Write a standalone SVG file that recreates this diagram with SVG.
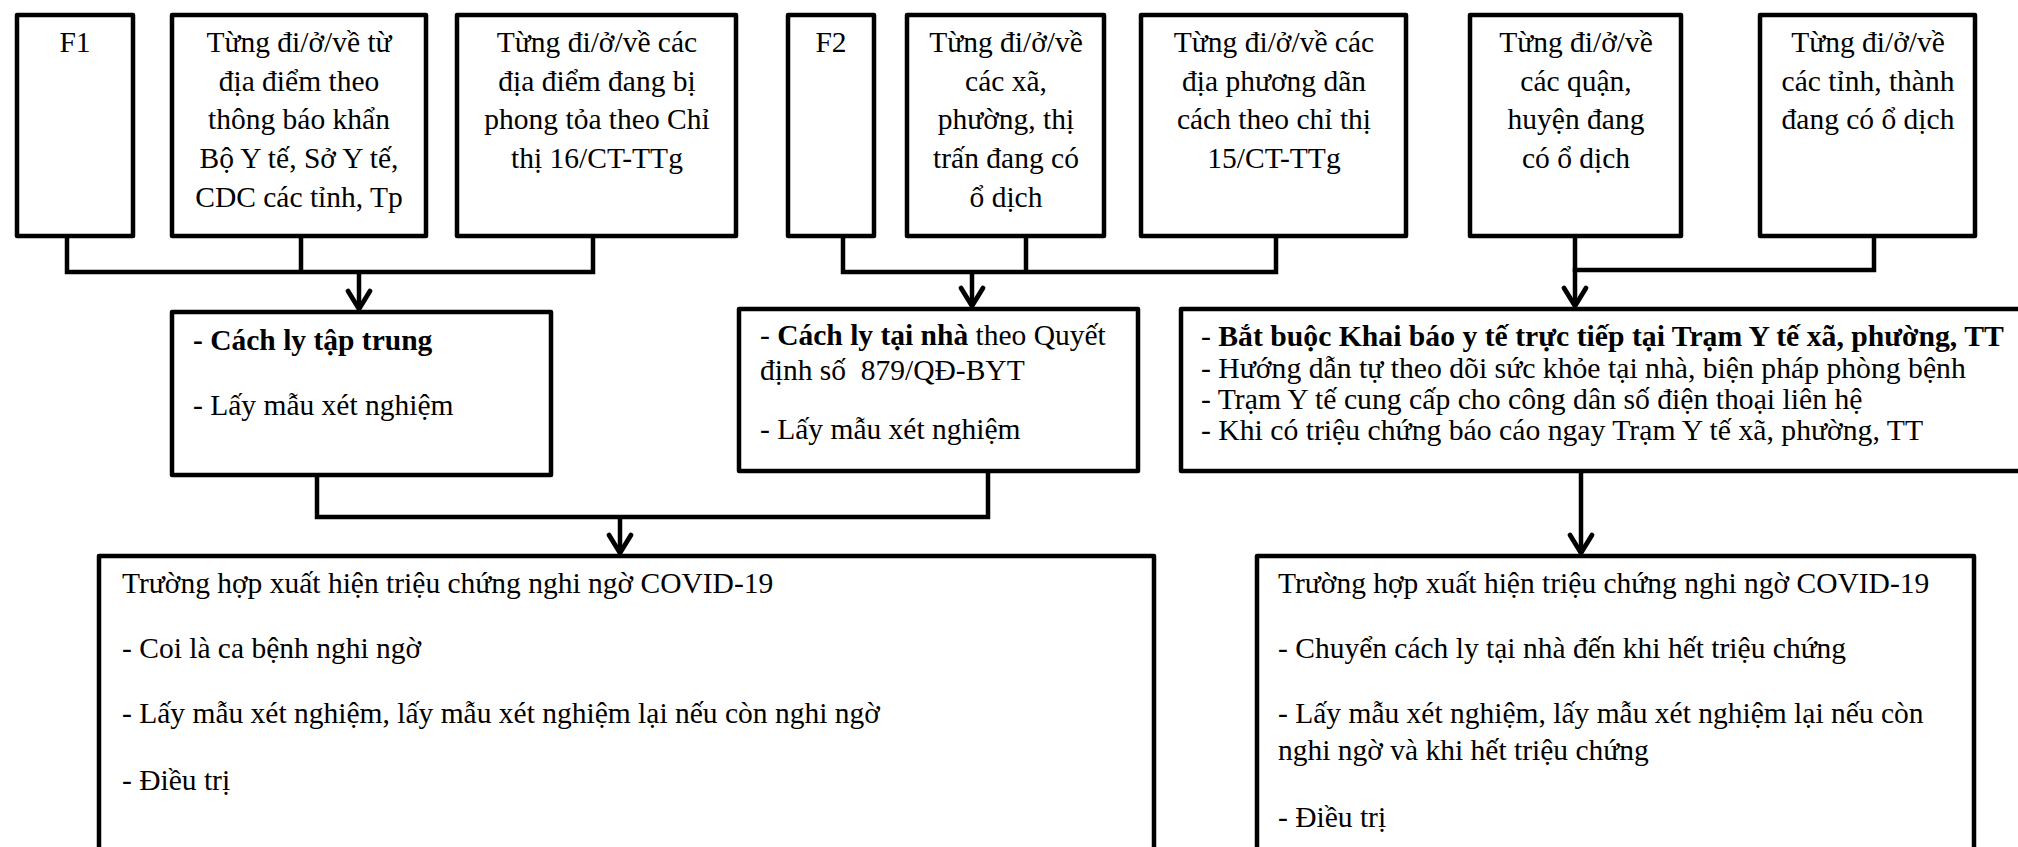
<svg xmlns="http://www.w3.org/2000/svg" width="2018" height="847" viewBox="0 0 2018 847">
<style>
  .box { fill: #ffffff; stroke: #000000; stroke-width: 4.5; stroke-linejoin: round; }
  .t { font-family: "Liberation Serif", "Times New Roman", "DejaVu Serif", serif; font-size: 29.5px; fill: #000000; }
  .s { font-size: 29.7px; }
  .c { text-anchor: middle; }
  .b { font-weight: bold; }
  .pre { white-space: pre; }
  .conn { fill: none; stroke: #000000; stroke-width: 4.5; stroke-linejoin: miter; stroke-linecap: square; }
  .arr { fill: none; stroke: #000000; stroke-width: 4.5; marker-end: url(#ah); }
</style>
<defs>
  <marker id="ah" markerUnits="userSpaceOnUse" viewBox="-24 -16 28 32" refX="0" refY="0" markerWidth="28" markerHeight="32" orient="auto" overflow="visible">
    <path d="M-18,-11 L0,0 L-18,11" fill="none" stroke="#000000" stroke-width="4.8" stroke-linecap="round" stroke-linejoin="miter"/>
  </marker>
</defs>
<rect width="2018" height="847" fill="#ffffff"/>

<g id="connectors">
  <path class="conn" d="M67 236 V272 M301 236 V272 M593 236 V272 M67 272 H593"/>
  <path class="arr" d="M359 272 V309"/>
  <path class="conn" d="M843 236 V272 M1026 236 V272 M1276 236 V272 M843 272 H1276"/>
  <path class="arr" d="M972 272 V306"/>
  <path class="conn" d="M1874 236 V270 H1575"/>
  <path class="arr" d="M1575 236 V306"/>
  <path class="conn" d="M317 475 V517 H988 V471"/>
  <path class="arr" d="M620 517 V553"/>
  <path class="arr" d="M1581 471 V553"/>
</g>

<g id="node-f1">
  <rect class="box" x="17" y="15" width="116" height="221"/>
  <text class="t c" x="75" y="52">F1</text>
</g>
<g id="node-thongbao">
  <rect class="box" x="172" y="15" width="254" height="221"/>
  <text class="t c" x="299" y="52">Từng đi/ở/về từ</text>
  <text class="t c" x="299" y="91">địa điểm theo</text>
  <text class="t c" x="299" y="129">thông báo khẩn</text>
  <text class="t c" x="299" y="168">Bộ Y tế, Sở Y tế,</text>
  <text class="t c" x="299" y="207">CDC các tỉnh, Tp</text>
</g>
<g id="node-ct16">
  <rect class="box" x="457" y="15" width="279" height="221"/>
  <text class="t c" x="597" y="52">Từng đi/ở/về các</text>
  <text class="t c" x="597" y="91">địa điểm đang bị</text>
  <text class="t c" x="597" y="129">phong tỏa theo Chỉ</text>
  <text class="t c" x="597" y="168">thị 16/CT-TTg</text>
</g>
<g id="node-f2">
  <rect class="box" x="788" y="15" width="86" height="221"/>
  <text class="t c" x="831" y="52">F2</text>
</g>
<g id="node-xa">
  <rect class="box" x="907" y="15" width="197" height="221"/>
  <text class="t c" x="1006" y="52">Từng đi/ở/về</text>
  <text class="t c" x="1006" y="91">các xã,</text>
  <text class="t c" x="1006" y="129">phường, thị</text>
  <text class="t c" x="1006" y="168">trấn đang có</text>
  <text class="t c" x="1006" y="207">ổ dịch</text>
</g>
<g id="node-ct15">
  <rect class="box" x="1141" y="15" width="265" height="221"/>
  <text class="t c" x="1274" y="52">Từng đi/ở/về các</text>
  <text class="t c" x="1274" y="91">địa phương dãn</text>
  <text class="t c" x="1274" y="129">cách theo chỉ thị</text>
  <text class="t c" x="1274" y="168">15/CT-TTg</text>
</g>
<g id="node-quan">
  <rect class="box" x="1470" y="15" width="211" height="221"/>
  <text class="t c" x="1576" y="52">Từng đi/ở/về</text>
  <text class="t c" x="1576" y="91">các quận,</text>
  <text class="t c" x="1576" y="129">huyện đang</text>
  <text class="t c" x="1576" y="168">có ổ dịch</text>
</g>
<g id="node-tinh">
  <rect class="box" x="1760" y="15" width="215" height="221"/>
  <text class="t c" x="1868" y="52">Từng đi/ở/về</text>
  <text class="t c" x="1868" y="91">các tỉnh, thành</text>
  <text class="t c" x="1868" y="129">đang có ổ dịch</text>
</g>

<g id="node-taptrung">
  <rect class="box" x="172" y="312" width="379" height="163"/>
  <text class="t b" x="193" y="350">- Cách ly tập trung</text>
  <text class="t" x="193" y="415">- Lấy mẫu xét nghiệm</text>
</g>
<g id="node-tainha">
  <rect class="box" x="739" y="309" width="399" height="162"/>
  <text class="t" x="760" y="345">- <tspan class="b">Cách ly tại nhà</tspan> theo Quyết</text>
  <text class="t pre" x="760" y="380">định số  879/QĐ-BYT</text>
  <text class="t" x="760" y="439">- Lấy mẫu xét nghiệm</text>
</g>
<g id="node-khaibao">
  <rect class="box" x="1181" y="309" width="860" height="162"/>
  <text class="t s" x="1201" y="346">- <tspan class="b">Bắt buộc Khai báo y tế trực tiếp tại Trạm Y tế xã, phường, TT</tspan></text>
  <text class="t s" x="1201" y="378">- Hướng dẫn tự theo dõi sức khỏe tại nhà, biện pháp phòng bệnh</text>
  <text class="t s" x="1201" y="409">- Trạm Y tế cung cấp cho công dân số điện thoại liên hệ</text>
  <text class="t s" x="1201" y="440">- Khi có triệu chứng báo cáo ngay Trạm Y tế xã, phường, TT</text>
</g>

<g id="node-f1-trieuchung">
  <rect class="box" x="99" y="556" width="1055" height="400"/>
  <text class="t" x="122" y="593">Trường hợp xuất hiện triệu chứng nghi ngờ COVID-19</text>
  <text class="t" x="122" y="658">- Coi là ca bệnh nghi ngờ</text>
  <text class="t" x="122" y="723">- Lấy mẫu xét nghiệm, lấy mẫu xét nghiệm lại nếu còn nghi ngờ</text>
  <text class="t" x="122" y="790">- Điều trị</text>
</g>
<g id="node-khaibao-trieuchung">
  <rect class="box" x="1257" y="556" width="717" height="400"/>
  <text class="t" x="1278" y="593">Trường hợp xuất hiện triệu chứng nghi ngờ COVID-19</text>
  <text class="t" x="1278" y="658">- Chuyển cách ly tại nhà đến khi hết triệu chứng</text>
  <text class="t" x="1278" y="723">- Lấy mẫu xét nghiệm, lấy mẫu xét nghiệm lại nếu còn</text>
  <text class="t" x="1278" y="760">nghi ngờ và khi hết triệu chứng</text>
  <text class="t" x="1278" y="827">- Điều trị</text>
</g>
</svg>
